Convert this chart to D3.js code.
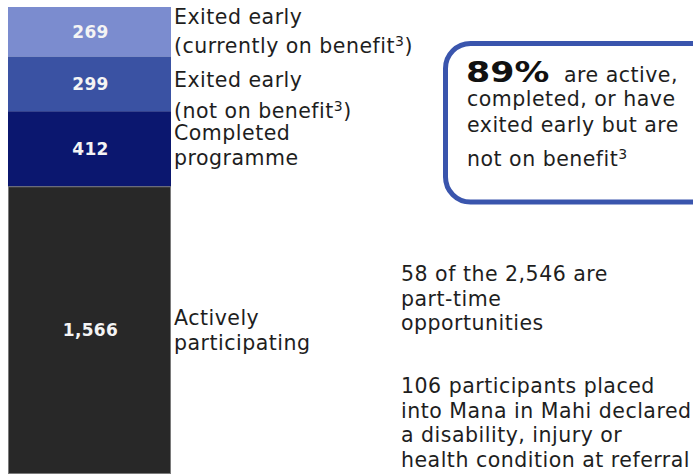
<!DOCTYPE html>
<html>
<head>
<meta charset="utf-8">
<script src="https://cdn.jsdelivr.net/npm/d3@7"></script>
<style>
  html, body { margin: 0; padding: 0; background: #ffffff; }
  svg { display: block; font-family: "DejaVu Sans", Verdana, sans-serif; }
  .label { font-size: 20.5px; letter-spacing: 0.5px; fill: #1e1e1e; }
  .value { font-size: 17px; font-weight: bold; fill: #f4f4f4; letter-spacing: 0.3px; }
  .note { font-size: 20.5px; letter-spacing: 0.5px; fill: #1e1e1e; }
</style>
</head>
<body>
<svg id="chart"></svg>
<script>
// ~~~~~~~~~ DATA ~~~~~~~~~
var categories = ["Actively participating", "Completed programme", "Exited early (not on benefit)", "Exited early (currently on benefit)"];
var values = [1566, 412, 299, 269];
var labelLines = [
    [["Actively"], ["participating"]],
    [["Completed"], ["programme"]],
    [["Exited early"], ["(not on benefit", "3", ")"]],
    [["Exited early"], ["(currently on benefit", "3", ")"]]
];
var colors = ["#282828", "#0b176f", "#3a52a3", "#7b8ccf"];
var calloutPercent = "89%";
var calloutLines = [["are active,"], ["completed, or have"], ["exited early but are"], ["not on benefit", "3"]];
var notes = [
    ["58 of the 2,546 are", "part-time", "opportunities"],
    ["106 participants placed", "into Mana in Mahi declared", "a disability, injury or", "health condition at referral"]
];

var width = 693, height = 475;
var barLeft = 8, barRight = 171, barTop = 7, barBottom = 474;

var svg = d3.select("#chart").attr("width", width).attr("height", height);

// one row, stacked from the bottom up
var row = {};
categories.forEach(function(c, i){ row[c] = values[i]; });
var series = d3.stack().keys(categories)([row]);
var total = d3.sum(values);

var y = d3.scaleLinear().domain([0, total]).range([barBottom, barTop]);

var bars = svg.append("g").attr("class", "bars");
bars.selectAll("rect")
    .data(series)
    .enter()
    .append("rect")
    .attr("x", barLeft)
    .attr("width", barRight - barLeft)
    .attr("y", function(d){ return y(d[0][1]); })
    .attr("height", function(d){ return y(d[0][0]) - y(d[0][1]); })
    .attr("fill", function(d, i){ return colors[i]; });

// thin grey edge round the bottom segment
bars.append("rect")
    .attr("x", barLeft + 0.5)
    .attr("y", y(series[0][0][1]))
    .attr("width", barRight - barLeft - 1)
    .attr("height", y(series[0][0][0]) - y(series[0][0][1]) - 0.5)
    .attr("fill", "none")
    .attr("stroke", "#7a7a7a")
    .attr("stroke-width", 1);

// value labels in the middle of each segment
bars.selectAll("text")
    .data(series)
    .enter()
    .append("text")
    .attr("class", "value")
    .attr("x", (barLeft + barRight) / 2 + 1)
    .attr("y", function(d){ return (y(d[0][0]) + y(d[0][1])) / 2; })
    .attr("dy", "0.36em")
    .attr("text-anchor", "middle")
    .text(function(d, i){ return d3.format(",")(values[i]); });

// category labels to the right of the bar
var lineGap = [25, 25, 31, 29];
var nudge = [0, -3, 12, 0];
function addLine(g, parts, x, yy, cls, supSize){
    var t = g.append("text").attr("class", cls).attr("x", x).attr("y", yy);
    parts.forEach(function(p, k){
        var s = t.append("tspan").text(p);
        if (k % 2 === 1) s.attr("dy", -7).style("font-size", supSize);
        else if (k > 0) s.attr("dy", 7);
    });
    return t;
}
var labels = svg.append("g").attr("class", "labels");
series.forEach(function(d, i){
    var mid = (y(d[0][0]) + y(d[0][1])) / 2 + nudge[i];
    var lines = labelLines[i];
    var first = mid - (lines.length - 1) * lineGap[i] / 2 + 7;
    lines.forEach(function(parts, j){
        addLine(labels, parts, 174, first + j * lineGap[i], "label", "14px");
    });
});

// callout box
var box = svg.append("g").attr("class", "callout");
box.append("rect")
    .attr("x", 445.5).attr("y", 43.5)
    .attr("width", 280).attr("height", 158.5)
    .attr("rx", 25).attr("ry", 25)
    .attr("fill", "#ffffff")
    .attr("stroke", "#3a55ad")
    .attr("stroke-width", 5);
box.append("text")
    .attr("transform", "translate(466,82) scale(1.2,1)")
    .style("font-size", "29px").style("font-weight", "bold").style("fill", "#111")
    .text(calloutPercent);
var calloutY = [82, 106, 132, 166];
calloutLines.forEach(function(parts, j){
    addLine(box, parts, j === 0 ? 564 : 467, calloutY[j], "note", "14px");
});

// notes on the right
var notesG = svg.append("g").attr("class", "notes");
var noteTop = [281, 393];
notes.forEach(function(lines, n){
    lines.forEach(function(line, j){
        notesG.append("text")
            .attr("class", "note")
            .attr("x", 401)
            .attr("y", noteTop[n] + j * 24.7)
            .text(line);
    });
});
</script>
</body>
</html>
